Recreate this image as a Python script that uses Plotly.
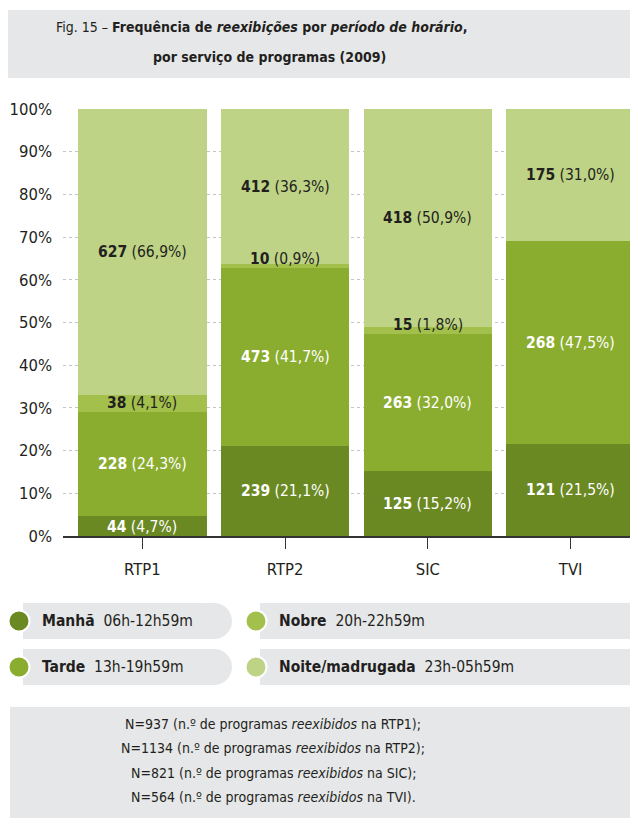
import plotly.graph_objects as go

# ---------------- data ----------------
channels = ["RTP1", "RTP2", "SIC", "TVI"]
period_names = ["Manhã", "Tarde", "Nobre", "Noite/madrugada"]
period_hours = ["06h-12h59m", "13h-19h59m", "20h-22h59m", "23h-05h59m"]

manha_counts = [44, 239, 125, 121]
manha_pct = [4.7, 21.1, 15.2, 21.5]
tarde_counts = [228, 473, 263, 268]
tarde_pct = [24.3, 41.7, 32.0, 47.5]
nobre_counts = [38, 10, 15, 0]
nobre_pct = [4.1, 0.9, 1.8, 0.0]
noite_counts = [627, 412, 418, 175]
noite_pct = [66.9, 36.3, 50.9, 31.0]
totals = [937, 1134, 821, 564]

y_ticks = [0, 10, 20, 30, 40, 50, 60, 70, 80, 90, 100]
y_ticktext = [f"{v}%" for v in y_ticks]

# ---------------- styles ----------------
OFF = 8  # page body margin
W, H = 638 - OFF, 825 - OFF
L, T = 63 - OFF, 109 - OFF
R, B = 0, H - (536 - OFF)
PW, PH = W - L - R, H - T - B
FONT = "DejaVu Sans Condensed, Liberation Sans Narrow, sans-serif"
DARK = "#231f20"
GRAYBOX = "#e6e7e8"
colors = ["#6b8923", "#8aad2f", "#a2c04b", "#bed385"]
label_colors = ["white", "white", DARK, DARK]

series_counts = [manha_counts, tarde_counts, nobre_counts, noite_counts]
series_pct = [manha_pct, tarde_pct, nobre_pct, noite_pct]


def px(x):
    return (x - OFF - L) / PW


def py(y):
    return (H - B - (y - OFF)) / PH


fig = go.Figure()
for name, pct, col in zip(period_names, series_pct, colors):
    fig.add_trace(go.Bar(x=channels, y=pct, name=name, marker_color=col,
                         marker_line_width=0, showlegend=False))

annotations = []
base = [0.0] * len(channels)
for counts, pct, lc in zip(series_counts, series_pct, label_colors):
    for j, ch in enumerate(channels):
        if counts[j] > 0:
            txt = f"<b>{counts[j]}</b> ({pct[j]:.1f}%)".replace(".", ",")
            if pct[j] < 5:
                annotations.append(dict(x=ch, y=base[j], xref="x", yref="y", text=txt,
                                        showarrow=False, yanchor="bottom", yshift=-2,
                                        font=dict(family=FONT, size=15.5, color=lc)))
            else:
                annotations.append(dict(x=ch, y=base[j] + pct[j] / 2, xref="x", yref="y",
                                        text=txt, showarrow=False, yanchor="middle",
                                        font=dict(family=FONT, size=15.5, color=lc)))
        base[j] += pct[j]

shapes = []
# title box
shapes.append(dict(type="rect", xref="paper", yref="paper", x0=px(8), x1=px(700),
                   y0=py(78), y1=py(10), fillcolor=GRAYBOX, line_width=0, layer="below"))
# footer box
shapes.append(dict(type="rect", xref="paper", yref="paper", x0=px(10), x1=px(700),
                   y0=py(818), y1=py(707), fillcolor=GRAYBOX, line_width=0, layer="below"))

annotations.append(dict(x=px(262), y=py(27), xref="paper", yref="paper", showarrow=False,
                        xanchor="center", yanchor="middle",
                        text="Fig. 15 – <b>Frequência de <i>reexibições</i> por <i>período de horário</i>,</b>",
                        font=dict(family=FONT, size=14, color=DARK)))
annotations.append(dict(x=px(269), y=py(57), xref="paper", yref="paper", showarrow=False,
                        xanchor="center", yanchor="middle",
                        text="<b>por serviço de programas (2009)</b>",
                        font=dict(family=FONT, size=14, color=DARK)))

# legend (pills)
legend_pos = [(19, 621, 232), (19, 667, 232), (256, 621, 760), (256, 667, 760)]
for k in [0, 2, 1, 3]:
    cx, cy, xr = legend_pos[k]
    h = 18
    shapes.append(dict(type="rect", xref="paper", yref="paper", x0=px(cx + 4), x1=px(xr - h),
                       y0=py(cy + h), y1=py(cy - h), fillcolor=GRAYBOX, line_width=0))
    shapes.append(dict(type="circle", xref="paper", yref="paper", x0=px(xr - 2 * h), x1=px(xr),
                       y0=py(cy + h), y1=py(cy - h), fillcolor=GRAYBOX, line_width=0))
    shapes.append(dict(type="circle", xref="paper", yref="paper", x0=px(cx - 10.5), x1=px(cx + 10.5),
                       y0=py(cy + 10.5), y1=py(cy - 10.5), fillcolor=colors[k],
                       line=dict(color="white", width=2)))
    annotations.append(dict(x=px(cx + 21), y=py(cy), xref="paper", yref="paper", showarrow=False,
                            xanchor="left", yanchor="middle",
                            text=f"<b>{period_names[k]}</b>\u00a0\u00a0{period_hours[k]}",
                            font=dict(family=FONT, size=15.5, color=DARK)))

# footer text
for i, (ch, n) in enumerate(zip(channels, totals)):
    end = ")." if i == len(channels) - 1 else ");"
    annotations.append(dict(x=px(273), y=py(724 + 24.3 * i), xref="paper", yref="paper",
                            showarrow=False, xanchor="center", yanchor="middle",
                            text=f"N={n} (n.º de programas <i>reexibidos</i> na {ch}{end}",
                            font=dict(family=FONT, size=14, color=DARK)))

fig.update_layout(
    width=W, height=H, margin=dict(l=L, r=R, t=T, b=B, pad=0),
    paper_bgcolor="white", plot_bgcolor="white",
    barmode="stack", bargap=0.1,
    shapes=shapes, annotations=annotations,
    font=dict(family=FONT, color=DARK),
)
fig.update_xaxes(range=[-0.556, 3.472], showline=True, linecolor="#333333", linewidth=1.5,
                 ticks="outside", ticklen=11, tickcolor="#333333", tickwidth=1,
                 tickfont=dict(family=FONT, size=16.5, color=DARK), showgrid=False,
                 ticklabelstandoff=6, fixedrange=True)
fig.update_yaxes(range=[0, 100], tickvals=y_ticks, ticktext=y_ticktext,
                 tickfont=dict(family=FONT, size=16.5, color=DARK),
                 showgrid=True, gridcolor="#c4c4c4", griddash="dot", gridwidth=1,
                 zeroline=False, showline=False, ticks="", ticklabelstandoff=10,
                 fixedrange=True)

fig.write_html("out.html")
